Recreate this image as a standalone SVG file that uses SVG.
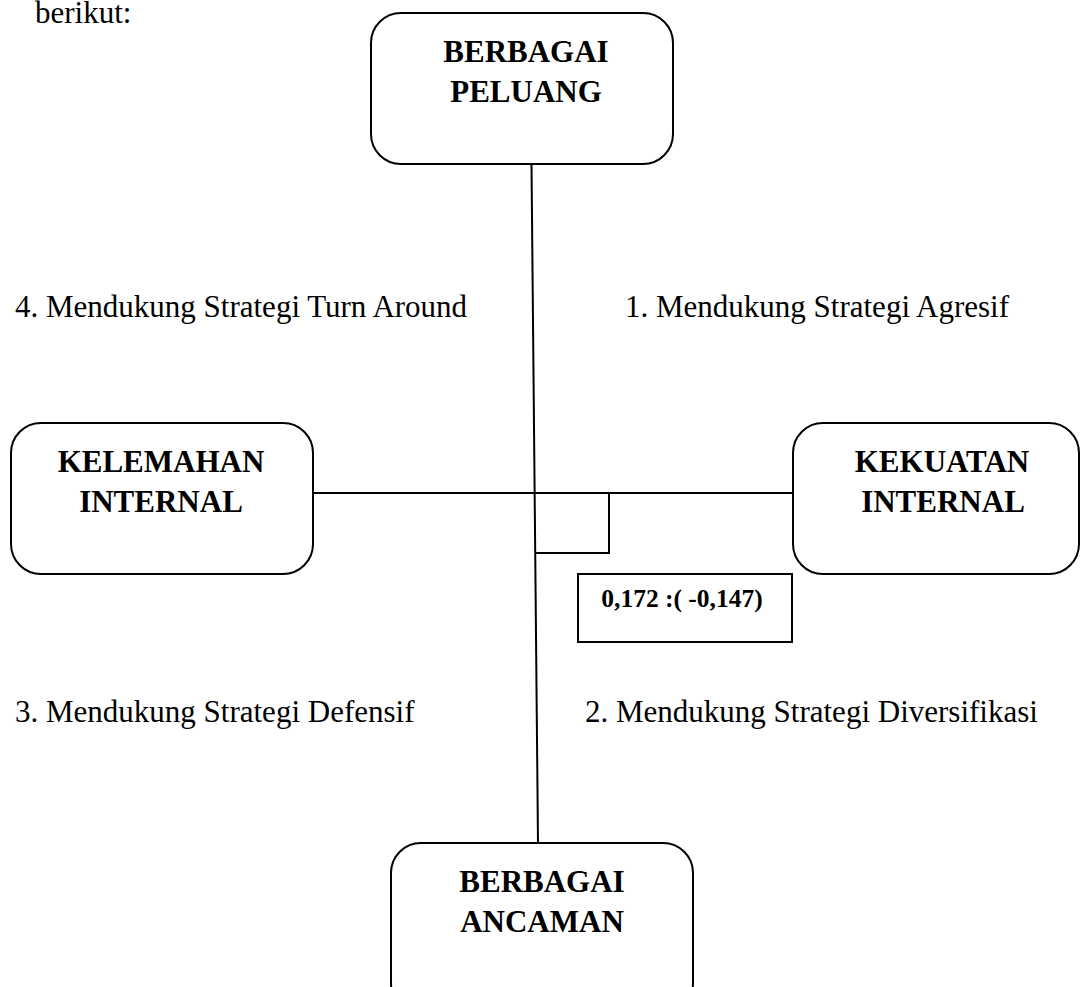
<svg xmlns="http://www.w3.org/2000/svg" width="1081" height="987" viewBox="0 0 1081 987">
<style>
.box{fill:#fff;stroke:#000;stroke-width:2}
.ln{fill:none;stroke:#000;stroke-width:2}
.t{font-family:"Liberation Serif","Times New Roman",serif;font-size:31px;fill:#000}
.b{font-family:"Liberation Serif","Times New Roman",serif;font-size:31px;font-weight:bold;fill:#000;text-anchor:middle}
.v{font-family:"Liberation Serif","Times New Roman",serif;font-size:25.5px;font-weight:bold;fill:#000;text-anchor:middle}
</style>
<rect width="1081" height="987" fill="#fff"/>
<text class="t" x="35" y="23">berikut:</text>
<g id="connectors">
<line class="ln" x1="531.5" y1="164" x2="538" y2="843"/>
<line class="ln" x1="313" y1="493" x2="793" y2="493"/>
<polyline class="ln" points="535,493 609,493 609,553 536,553"/>
</g>
<g id="peluang">
<rect class="box" x="371" y="13" width="302" height="151" rx="30"/>
<text class="b" x="526" y="62">BERBAGAI</text>
<text class="b" x="526" y="102">PELUANG</text>
</g>
<g id="kelemahan">
<rect class="box" x="11" y="423" width="302" height="151" rx="30"/>
<text class="b" x="161" y="472">KELEMAHAN</text>
<text class="b" x="161" y="512">INTERNAL</text>
</g>
<g id="kekuatan">
<rect class="box" x="793" y="423" width="286" height="151" rx="30"/>
<text class="b" x="942" y="472">KEKUATAN</text>
<text class="b" x="943" y="512">INTERNAL</text>
</g>
<g id="ancaman">
<rect class="box" x="391" y="843" width="302" height="170" rx="30"/>
<text class="b" x="542" y="892">BERBAGAI</text>
<text class="b" x="542" y="932">ANCAMAN</text>
</g>
<g id="nilai">
<rect class="box" x="578" y="574" width="214" height="68"/>
<text class="v" x="682" y="607">0,172 :( -0,147)</text>
</g>
<g id="labels">
<text class="t" x="15" y="317">4. Mendukung Strategi Turn Around</text>
<text class="t" x="625" y="317">1. Mendukung Strategi Agresif</text>
<text class="t" x="15" y="722">3. Mendukung Strategi Defensif</text>
<text class="t" x="585" y="722">2. Mendukung Strategi Diversifikasi</text>
</g>
</svg>
